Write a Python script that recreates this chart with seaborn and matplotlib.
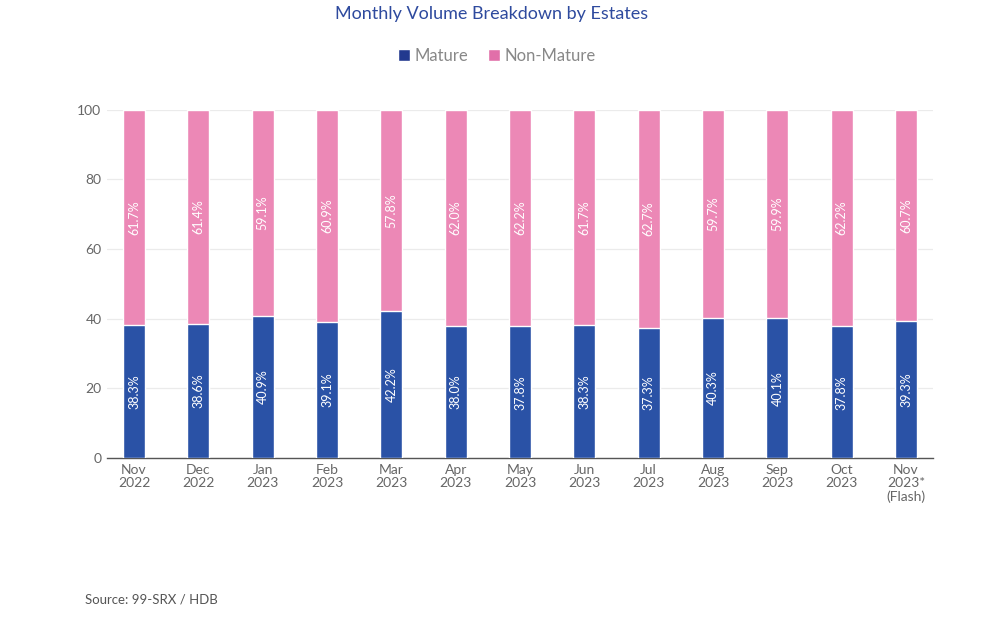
import matplotlib
matplotlib.use("Agg")
import matplotlib.pyplot as plt
import seaborn as sns
import pandas as pd
from matplotlib.patches import Patch

months = ["Nov\n2022", "Dec\n2022", "Jan\n2023", "Feb\n2023", "Mar\n2023", "Apr\n2023",
          "May\n2023", "Jun\n2023", "Jul\n2023", "Aug\n2023", "Sep\n2023", "Oct\n2023",
          "Nov\n2023*\n(Flash)"]
mature = [38.3, 38.6, 40.9, 39.1, 42.2, 38.0, 37.8, 38.3, 37.3, 40.3, 40.1, 37.8, 39.3]
non_mature = [61.7, 61.4, 59.1, 60.9, 57.8, 62.0, 62.2, 61.7, 62.7, 59.7, 59.9, 62.2, 60.7]

blue = "#2a52a6"
pink = "#ec88b6"

sns.set_theme(style="white")
plt.rcParams['font.family'] = ['Lato', 'DejaVu Sans']

df = pd.DataFrame({"month": months, "mature": mature, "non_mature": non_mature})
df["total"] = df["mature"] + df["non_mature"]

fig = plt.figure(figsize=(10, 6.24), dpi=100)
ax = fig.add_axes([0.107, 0.266, 0.826, 0.558])

sns.barplot(data=df, x="month", y="total", color=pink, width=0.34, saturation=1, ax=ax, zorder=2)
sns.barplot(data=df, x="month", y="mature", color=blue, width=0.34, saturation=1, ax=ax, zorder=3)

for i, (m, n) in enumerate(zip(mature, non_mature)):
    ax.text(i, m / 2, f"{m:.1f}%", rotation=90, ha="center", va="center",
            color="white", fontsize=9, zorder=4)
    ax.text(i, m + n / 2, f"{n:.1f}%", rotation=90, ha="center", va="center",
            color="white", fontsize=9, zorder=4)

ax.set_ylim(0, 100)
ax.set_xlim(-0.42, 12.42)
ax.set_yticks([0, 20, 40, 60, 80, 100])
ax.yaxis.grid(True, color="#ebebeb", linewidth=0.9, zorder=0)
ax.set_axisbelow(True)
ax.set_xlabel("")
ax.set_ylabel("")
for s in ["top", "right", "left"]:
    ax.spines[s].set_visible(False)
ax.spines["bottom"].set_color("#555555")
ax.spines["bottom"].set_linewidth(1.0)
ax.tick_params(axis="both", colors="#666666", labelsize=10, length=0, pad=4)
for lab in ax.get_xticklabels():
    lab.set_linespacing(1.15)
    lab.set_color("#666666")

fig.text(0.492, 0.978, "Monthly Volume Breakdown by Estates", ha="center", va="center",
         fontsize=13, color="#2e4a9e")

handles = [Patch(facecolor="#22398f", label="Mature"), Patch(facecolor="#e16fa9", label="Non-Mature")]
leg = fig.legend(handles=handles, loc="center", bbox_to_anchor=(0.497, 0.91), ncol=2,
                 frameon=False, fontsize=12, handlelength=0.7, handleheight=0.7,
                 handletextpad=0.3, columnspacing=1.2)
for t in leg.get_texts():
    t.set_color("#888888")

fig.text(0.085, 0.04, "Source: 99-SRX / HDB", ha="left", va="center", fontsize=9.5, color="#555555")

fig.savefig("out.png", dpi=100, facecolor="white")
